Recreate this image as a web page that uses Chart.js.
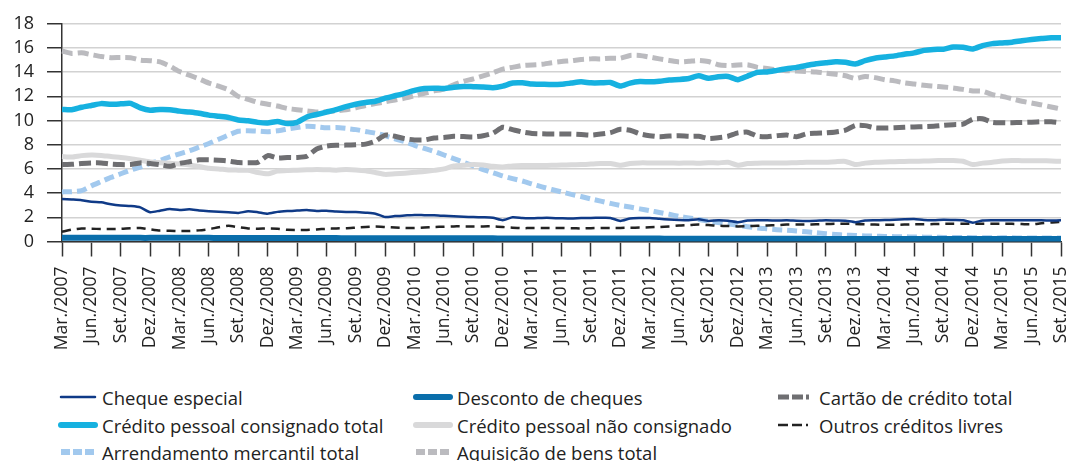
<!DOCTYPE html>
<html lang="pt-BR">
<head>
<meta charset="utf-8">
<script src="https://cdn.jsdelivr.net/npm/chart.js@4.4.1/dist/chart.umd.min.js"></script>
<style>
  html, body { margin: 0; padding: 0; background: #fff; }
  body { width: 1066px; height: 461px; overflow: hidden; position: relative; font-family: 'Open Sans', sans-serif; }
  #wrap { position: absolute; left: 0; top: 0; width: 1066px; height: 372px; }
  .item { position: absolute; height: 26px; display: flex; align-items: center; font-size: 18.5px; color: #222; white-space: nowrap; }
  .item svg { margin-right: 4px; }
</style>
</head>
<body>
<div id="wrap"><canvas id="grafico" width="1066" height="372"></canvas></div>
<div id="legenda"></div>
<script>
// Meses (Mar./2007 a Set./2015, mensal)
const meses = ['Jan.', 'Fev.', 'Mar.', 'Abr.', 'Mai.', 'Jun.', 'Jul.', 'Ago.', 'Set.', 'Out.', 'Nov.', 'Dez.'];
const categorias = [];
for (let k = 0; k < 103; k++) {
    categorias.push(meses[(2 + k) % 12] + '/' + (2007 + Math.floor((2 + k) / 12)));
}

const chequeEspecial = [3.51,3.47,3.42,3.28,3.24,3.08,2.98,2.93,2.82,2.42,2.55,2.68,
    2.6,2.66,2.56,2.5,2.46,2.42,2.36,2.5,2.42,2.3,2.45,2.52,
    2.56,2.6,2.52,2.55,2.48,2.44,2.44,2.38,2.3,2.02,2.1,2.15,
    2.2,2.18,2.17,2.12,2.08,2.05,2.02,2.0,1.96,1.76,2.0,1.95,
    1.92,1.95,1.95,1.92,1.9,1.94,1.95,1.96,1.95,1.7,1.9,1.94,
    1.95,1.88,1.82,1.78,1.76,1.84,1.7,1.75,1.72,1.6,1.74,1.76,
    1.75,1.74,1.75,1.72,1.7,1.72,1.75,1.73,1.72,1.6,1.74,1.76,
    1.77,1.8,1.84,1.86,1.78,1.76,1.8,1.78,1.76,1.56,1.74,1.76,
    1.75,1.76,1.75,1.75,1.75,1.74,1.75];

const descontoCheques = [0.32,0.32,0.32,0.31,0.31,0.31,0.31,0.31,0.3,0.3,0.3,0.3,
    0.3,0.3,0.3,0.3,0.29,0.29,0.29,0.29,0.29,0.29,0.28,0.28,
    0.28,0.28,0.28,0.28,0.28,0.27,0.27,0.27,0.27,0.27,0.27,0.27,
    0.26,0.26,0.26,0.26,0.26,0.26,0.26,0.26,0.26,0.25,0.25,0.25,
    0.25,0.25,0.25,0.25,0.25,0.25,0.24,0.24,0.24,0.24,0.24,0.24,
    0.24,0.24,0.23,0.23,0.23,0.23,0.23,0.23,0.23,0.23,0.22,0.22,
    0.22,0.22,0.22,0.22,0.22,0.22,0.21,0.21,0.21,0.21,0.21,0.21,
    0.21,0.21,0.21,0.2,0.2,0.2,0.2,0.2,0.2,0.2,0.2,0.2,
    0.2,0.2,0.2,0.2,0.2,0.2,0.2];

const cartaoCredito = [6.36,6.38,6.45,6.5,6.5,6.4,6.36,6.36,6.5,6.45,6.35,6.22,
    6.45,6.6,6.75,6.76,6.72,6.65,6.53,6.52,6.55,7.1,6.9,6.95,
    6.95,7.05,7.65,7.88,7.95,7.97,8.0,8.05,8.3,8.8,8.7,8.5,
    8.4,8.4,8.55,8.6,8.7,8.68,8.65,8.75,8.95,9.45,9.25,9.05,
    8.93,8.9,8.88,8.88,8.88,8.85,8.8,8.88,9.0,9.28,9.2,8.9,
    8.75,8.66,8.72,8.74,8.7,8.7,8.52,8.58,8.7,8.98,9.04,8.7,
    8.66,8.75,8.8,8.66,8.9,8.95,8.98,9.05,9.2,9.6,9.58,9.4,
    9.38,9.4,9.44,9.47,9.5,9.53,9.6,9.66,9.7,10.12,10.15,9.85,
    9.82,9.82,9.84,9.86,9.9,9.9,9.82];

const consignado = [10.92,10.9,11.1,11.25,11.4,11.35,11.38,11.42,11.05,10.85,10.92,10.9,
    10.78,10.7,10.6,10.45,10.35,10.25,10.05,9.98,9.85,9.8,9.92,9.75,
    9.85,10.3,10.5,10.7,10.9,11.15,11.35,11.5,11.6,11.85,12.05,12.25,
    12.5,12.65,12.68,12.65,12.75,12.82,12.8,12.78,12.72,12.85,13.1,13.12,
    13.02,13.0,12.98,13.0,13.1,13.2,13.12,13.12,13.15,12.85,13.1,13.22,
    13.2,13.25,13.35,13.4,13.48,13.7,13.5,13.62,13.65,13.38,13.68,13.98,
    14.02,14.15,14.28,14.4,14.55,14.7,14.78,14.86,14.82,14.68,14.95,15.15,
    15.25,15.35,15.48,15.6,15.8,15.88,15.9,16.08,16.06,15.92,16.2,16.36,
    16.42,16.48,16.6,16.7,16.78,16.85,16.85];

const naoConsignado = [7.03,6.98,7.1,7.15,7.12,7.02,6.95,6.85,6.72,6.58,6.52,6.47,
    6.4,6.32,6.2,6.05,6.0,5.92,5.9,5.88,5.7,5.6,5.82,5.88,
    5.9,5.93,5.96,5.94,5.9,5.95,5.92,5.85,5.7,5.55,5.6,5.65,
    5.72,5.78,5.88,6.0,6.25,6.3,6.36,6.32,6.22,6.17,6.25,6.28,
    6.28,6.28,6.3,6.32,6.35,6.36,6.4,6.44,6.45,6.3,6.45,6.5,
    6.5,6.5,6.5,6.48,6.5,6.47,6.52,6.5,6.55,6.3,6.45,6.48,
    6.5,6.5,6.5,6.52,6.55,6.55,6.55,6.6,6.62,6.36,6.48,6.55,
    6.58,6.6,6.62,6.63,6.65,6.68,6.7,6.7,6.63,6.36,6.48,6.55,
    6.65,6.7,6.68,6.68,6.68,6.66,6.63];

const outrosCreditos = [0.8,0.98,1.08,1.05,1.04,1.04,1.05,1.1,1.12,1.0,0.9,0.88,
    0.86,0.87,0.92,1.02,1.18,1.3,1.18,1.08,1.06,1.07,1.05,0.97,
    0.95,0.96,1.0,1.05,1.08,1.1,1.15,1.2,1.24,1.2,1.15,1.12,
    1.12,1.16,1.2,1.22,1.25,1.25,1.25,1.25,1.25,1.2,1.14,1.1,
    1.12,1.12,1.12,1.12,1.1,1.08,1.1,1.12,1.12,1.12,1.14,1.15,
    1.18,1.2,1.25,1.32,1.36,1.4,1.36,1.3,1.28,1.25,1.27,1.3,
    1.32,1.35,1.4,1.4,1.41,1.42,1.44,1.46,1.47,1.45,1.42,1.4,
    1.38,1.38,1.4,1.42,1.42,1.44,1.46,1.47,1.47,1.47,1.47,1.47,
    1.47,1.46,1.44,1.42,1.5,1.58,1.63];

const arrendamento = [4.1,4.12,4.2,4.6,4.95,5.3,5.6,5.9,6.15,6.45,6.7,7.0,
    7.25,7.5,7.8,8.1,8.45,8.8,9.12,9.15,9.12,9.08,9.15,9.3,
    9.42,9.52,9.48,9.4,9.42,9.35,9.25,9.1,8.95,8.75,8.48,8.25,
    7.95,7.7,7.45,7.15,6.85,6.55,6.25,5.95,5.68,5.42,5.2,5.0,
    4.75,4.52,4.3,4.1,3.9,3.72,3.52,3.34,3.15,2.98,2.85,2.7,
    2.55,2.4,2.25,2.08,1.95,1.82,1.68,1.56,1.45,1.34,1.22,1.12,
    1.05,0.98,0.93,0.87,0.8,0.72,0.65,0.58,0.53,0.5,0.46,0.44,
    0.42,0.4,0.39,0.37,0.36,0.35,0.34,0.34,0.33,0.32,0.31,0.3,
    0.3,0.3,0.29,0.29,0.28,0.28,0.28];

const aquisicao = [15.75,15.55,15.6,15.45,15.3,15.2,15.22,15.2,15.0,14.95,14.85,14.5,
    14.05,13.75,13.45,13.1,12.85,12.55,12.0,11.75,11.5,11.35,11.2,11.0,
    10.9,10.8,10.7,10.72,10.8,10.9,11.05,11.25,11.4,11.55,11.7,11.85,
    12.05,12.25,12.45,12.6,12.95,13.25,13.45,13.7,13.95,14.25,14.4,14.55,
    14.6,14.65,14.78,14.88,14.95,15.05,15.1,15.1,15.15,15.15,15.38,15.38,
    15.25,15.1,14.97,14.85,14.9,14.97,14.88,14.62,14.55,14.6,14.62,14.4,
    14.3,14.2,14.12,14.1,14.06,14.02,13.92,13.82,13.7,13.48,13.65,13.55,
    13.38,13.28,13.12,13.02,12.92,12.85,12.78,12.7,12.58,12.45,12.42,12.15,
    12.0,11.8,11.6,11.45,11.3,11.12,10.95];

// legenda: posição [coluna, linha] e traço da amostra
const posLegenda = [[58, 384], [413, 384], [775, 384], [58, 412], [413, 412], [775, 412], [58, 439], [413, 439]];

function serie(label, data, cor, largura, traco, amostra) {
    return {
        label: label,
        data: data,
        borderColor: cor,
        backgroundColor: cor,
        borderWidth: largura,
        borderDash: traco,
        pointRadius: 0,
        pointHoverRadius: 0,
        tension: 0.2,
        fill: false,
        amostra: amostra
    };
}

const ctx = document.getElementById('grafico').getContext('2d');
Chart.defaults.font.family = "'Open Sans', sans-serif";
Chart.defaults.color = '#222';

const grafico = new Chart(ctx, {
    type: 'line',
    data: {
        labels: categorias,
        datasets: [
            serie('Cheque especial', chequeEspecial, '#0f3a87', 2.5, [], { w: 2.5, dash: '' }),
            serie('Desconto de cheques', descontoCheques, '#0a6eab', 6, [], { w: 6, dash: '' }),
            serie('Cartão de crédito total', cartaoCredito, '#6f6f72', 5, [12, 5], { w: 5, dash: '11 3 11 3 3' }),
            serie('Crédito pessoal consignado total', consignado, '#16b1e0', 5.5, [], { w: 6, dash: '' }),
            serie('Crédito pessoal não consignado', naoConsignado, '#d9d9da', 5, [], { w: 6, dash: '' }),
            serie('Outros créditos livres', outrosCreditos, '#222222', 2.5, [9, 6], { w: 2.5, dash: '10 4 10 4 2' }),
            serie('Arrendamento mercantil total', arrendamento, '#a2c9ee', 5, [10, 5], { w: 6, dash: '9 3' }),
            serie('Aquisição de bens total', aquisicao, '#bbbbbf', 5, [11, 5], { w: 6, dash: '9 3' })
        ]
    },
    options: {
        responsive: false,
        animation: false,
        layout: { padding: { top: 21, left: 12, right: 5, bottom: 0 } },
        plugins: {
            legend: { display: false },
            tooltip: { enabled: false }
        },
        scales: {
            x: {
                offset: false,
                grid: {
                    drawOnChartArea: false,
                    drawTicks: true,
                    tickLength: 15,
                    tickWidth: 1.5,
                    tickColor: (c) => (c.index % 3 === 0 ? '#333' : 'rgba(0,0,0,0)')
                },
                border: { color: '#333', width: 1.5 },
                ticks: {
                    autoSkip: false,
                    minRotation: 90,
                    maxRotation: 90,
                    padding: 10,
                    font: { size: 17.5 },
                    color: '#222',
                    callback: function (v, i) { return i % 3 === 0 ? categorias[i] : ''; }
                },
                afterFit: function (s) { s.height = 130.5; s.paddingLeft = 0; s.paddingRight = 0; }
            },
            y: {
                min: 0,
                max: 18,
                ticks: { stepSize: 2, autoSkip: false, padding: 13, font: { size: 18 }, color: '#222' },
                grid: { color: '#d2d2d2', lineWidth: 1.5, tickLength: 15, tickColor: '#333', tickWidth: 1.5 },
                border: { color: '#333', width: 1.5 },
                afterFit: function (s) { s.width = 50; }
            }
        }
    }
});

// legenda em HTML, montada a partir dos datasets
const legenda = document.getElementById('legenda');
grafico.data.datasets.forEach(function (ds, i) {
    const item = document.createElement('div');
    item.className = 'item';
    item.style.left = posLegenda[i][0] + 'px';
    item.style.top = posLegenda[i][1] + 'px';
    const cap = ds.amostra.dash ? 'butt' : 'round';
    item.innerHTML = '<svg width="40" height="12"><line x1="3" y1="6" x2="37" y2="6" stroke="' + ds.borderColor +
        '" stroke-width="' + ds.amostra.w + '" stroke-linecap="' + cap + '"' +
        (ds.amostra.dash ? ' stroke-dasharray="' + ds.amostra.dash + '"' : '') + '/></svg><span>' + ds.label + '</span>';
    legenda.appendChild(item);
});
</script>
</body>
</html>
